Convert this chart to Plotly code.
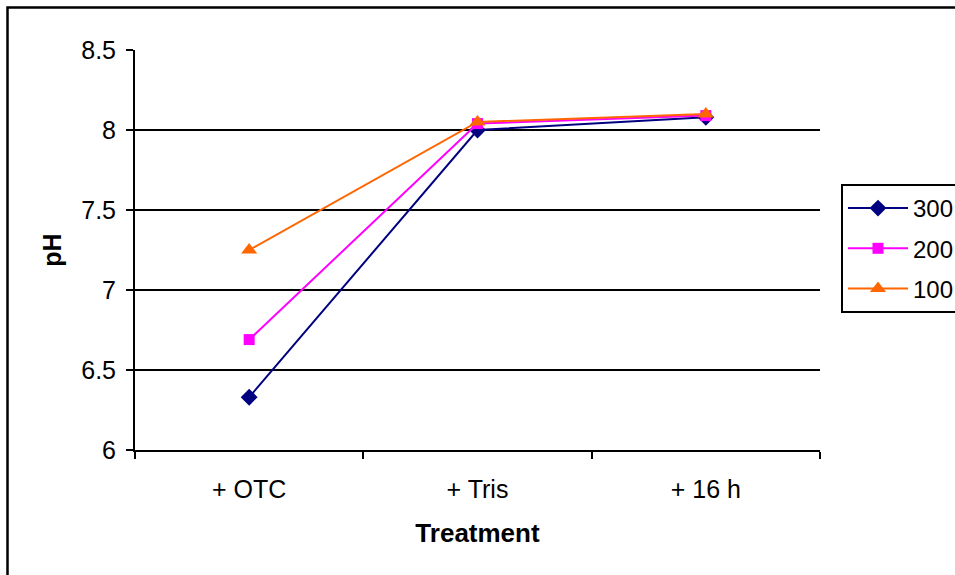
import plotly.graph_objects as go

categories = ["+ OTC", "+ Tris", "+ 16 h"]
series_names = ["300", "200", "100"]
ph_300 = [6.33, 8.00, 8.08]
ph_200 = [6.69, 8.04, 8.09]
ph_100 = [7.25, 8.05, 8.10]
y_ticks = [6, 6.5, 7, 7.5, 8, 8.5]
y_tick_labels = ["6", "6.5", "7", "7.5", "8", "8.5"]

FONT = "Liberation Sans, Arial, sans-serif"
W, H = 955, 575
L, R, T, B = 135, 135, 50, 125

styles = [
    dict(color="#000080", symbol="diamond", size=13),
    dict(color="#FF00FF", symbol="square", size=11),
    dict(color="#FF6600", symbol="triangle-up", size=14),
]

fig = go.Figure()
for name, vals, st in zip(series_names, [ph_300, ph_200, ph_100], styles):
    fig.add_trace(go.Scatter(
        x=categories, y=vals, name=name, mode="lines+markers",
        line=dict(color=st["color"], width=2),
        marker=dict(color=st["color"], symbol=st["symbol"], size=st["size"],
                    line=dict(width=0)),
        legendgroup=name,
        cliponaxis=False,
    ))

pw = W - L - R
ph = H - T - B

def px_x(p):
    return (p - L) / pw

def px_y(p):
    return (H - B - p) / ph

fig.update_layout(
    width=W, height=H,
    margin=dict(l=L, r=R, t=T, b=B, autoexpand=False),
    paper_bgcolor="white", plot_bgcolor="white",
    font=dict(family=FONT, size=25, color="black"),
    showlegend=True,
    legend=dict(
        x=px_x(841), y=px_y(184), xanchor="left", yanchor="top",
        bordercolor="black", borderwidth=2, bgcolor="white",
        font=dict(family=FONT, size=24, color="black"),
        traceorder="grouped", tracegroupgap=6, itemwidth=60,
    ),
    xaxis=dict(
        type="category", range=[-0.5, 2.5],
        showline=True, linecolor="black", linewidth=2,
        ticks="outside", ticklen=7, tickwidth=2, tickcolor="black",
        tickson="boundaries", showgrid=False, zeroline=False,
        tickfont=dict(family=FONT, size=25), ticklabelstandoff=16,
        title=dict(text="<b>Treatment</b>", font=dict(family=FONT, size=26), standoff=22),
    ),
    yaxis=dict(
        range=[6, 8.5], tickvals=y_ticks, ticktext=y_tick_labels,
        showline=True, linecolor="black", linewidth=2,
        ticks="outside", ticklen=7, tickwidth=2, tickcolor="black",
        showgrid=True, gridcolor="black", gridwidth=2, zeroline=False,
        tickfont=dict(family=FONT, size=25), ticklabelstandoff=5,
        title=dict(text="<b>pH</b>", font=dict(family=FONT, size=25), standoff=12),
    ),
    shapes=[dict(
        type="rect", xref="paper", yref="paper",
        x0=px_x(7.5), x1=px_x(980), y0=px_y(600), y1=px_y(7.5),
        line=dict(color="black", width=2.5), fillcolor="rgba(0,0,0,0)", layer="below",
    )],
)

fig.write_html("out.html")
